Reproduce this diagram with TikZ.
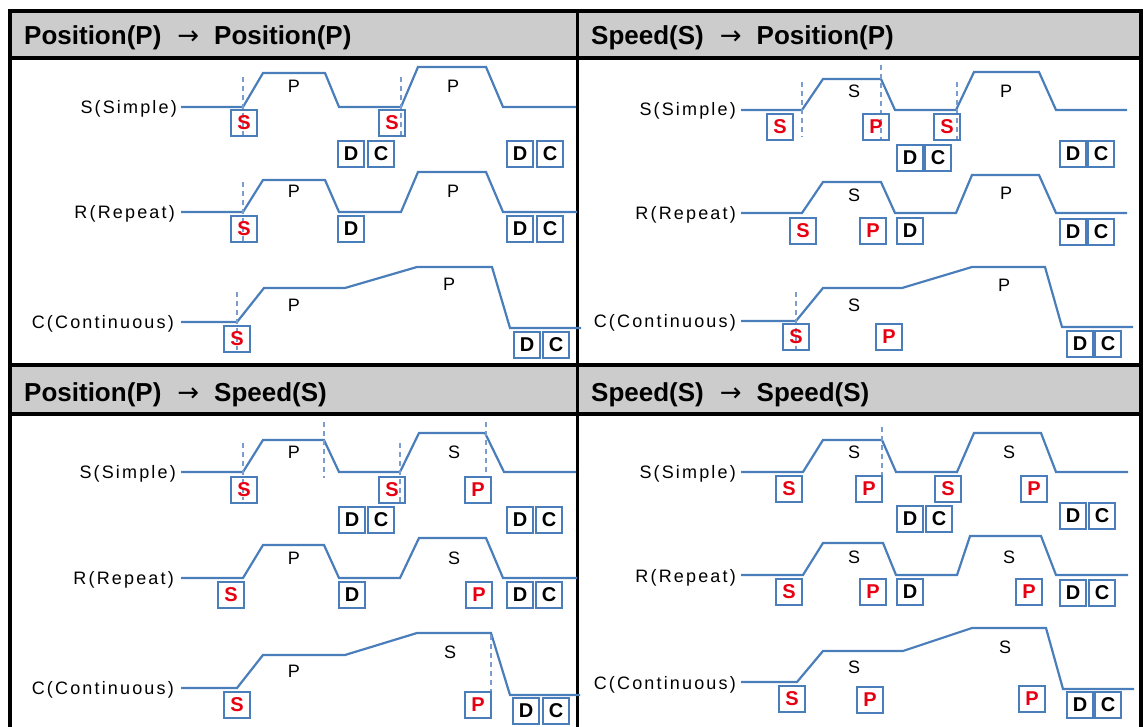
\documentclass[tikz,border=0pt]{standalone}
\usepackage{fontspec}
\setmainfont{Liberation Sans}
\newfontfamily\lblfont[LetterSpace=12]{Liberation Sans}
\newfontfamily\arrowfont{DejaVu Sans}
\definecolor{wblue}{HTML}{4A7EBB}
\definecolor{gblue}{HTML}{7A9CCF}
\definecolor{sred}{HTML}{E60012}
\definecolor{hdrgray}{HTML}{CCCCCC}
\newcommand\rbx[4]{\node[rbox] (#1) at (#2,#3) {#4};}
\newcommand\kbx[4]{\node[kbox] (#1) at (#2,#3) {#4};}
\newcommand\harr{\hspace{16pt}{\arrowfont\mdseries →}\hspace{15pt}}
\begin{document}
\begin{tikzpicture}[x=1pt,y=-1pt,
  wave/.style={draw=wblue, line width=2.2pt},
  guide/.style={draw=gblue, line width=1.3pt, dash pattern=on 5pt off 4pt},
  frame/.style={draw=black, line width=3.5pt},
  rbox/.style={draw=wblue, line width=1.8pt, minimum width=26pt, minimum height=26pt, inner sep=0pt, font=\fontsize{20}{20}\selectfont\bfseries, text=sred},
  kbox/.style={rbox, text=black},
  lbl/.style={anchor=base east, inner sep=0pt, font=\lblfont\fontsize{18}{20}\selectfont},
  seg/.style={inner sep=0pt, font=\fontsize{18}{20}\selectfont},
  hdr/.style={anchor=base west, inner sep=0pt, font=\fontsize{26}{28}\selectfont\bfseries}]
\useasboundingbox (0,0) rectangle (1144,727);
% headers background
\fill[hdrgray] (10,11) rectangle (1141,58);
\fill[hdrgray] (10,365) rectangle (1141,414);
% frame
\draw[frame] (10,11) rectangle (1141,745);
\draw[frame] (10,58) -- (1141,58);
\draw[frame] (10,365) -- (1141,365);
\draw[frame] (10,414) -- (1141,414);
\draw[draw=black, line width=3pt] (577,11) -- (577,745);
% header texts
\node[hdr] (h1) at (24,45) {Position(P)\harr Position(P)};
\node[hdr] (h2) at (591,45) {Speed(S)\harr Position(P)};
\node[hdr] (h3) at (24,402) {Position(P)\harr Speed(S)};
\node[hdr] (h4) at (591,402) {Speed(S)\harr Speed(S)};

% ================= Q1 =================
\node[lbl] (q1l1) at (177,113.5) {S(Simple)};
\node[lbl] (q1l2) at (175,218.5) {R(Repeat)};
\node[lbl] (q1l3) at (174,328.5) {C(Continuous)};
\draw[wave] (181,107) -- (243,107) -- (263,73) -- (325,73) -- (339,107) -- (401,107) -- (418,67) -- (486,67) -- (503,107) -- (576,107);
\draw[guide] (243,77) -- (243,136);
\draw[guide] (401,77) -- (401,136);
\node[seg] (q1p1) at (294,86) {P};
\node[seg] (q1p2) at (453,86) {P};
\rbx{q1a1}{244}{123}{S}
\rbx{q1a2}{392}{123}{S}
\kbx{q1a3}{351}{154}{D}
\kbx{q1a4}{381}{154}{C}
\kbx{q1a5}{520}{154}{D}
\kbx{q1a6}{550}{154}{C}

\draw[wave] (181,212) -- (243,212) -- (263,180) -- (325,180) -- (339,212) -- (401,212) -- (418,172) -- (486,172) -- (503,212) -- (577,212);
\draw[guide] (243,182) -- (243,242);
\node[seg] (q1p3) at (294,191) {P};
\node[seg] (q1p4) at (453,191) {P};
\rbx{q1b1}{244}{229}{S}
\kbx{q1b2}{351}{229}{D}
\kbx{q1b3}{520}{229}{D}
\kbx{q1b4}{550}{229}{C}

\draw[wave] (181,322) -- (237,322) -- (264,288) -- (345,288) -- (417,267) -- (492,267) -- (510,328) -- (581,328);
\draw[guide] (237,292) -- (237,350);
\node[seg] (q1p5) at (294,305) {P};
\node[seg] (q1p6) at (449,284) {P};
\rbx{q1c1}{237}{339}{S}
\kbx{q1c2}{527}{345}{D}
\kbx{q1c3}{556}{345}{C}

% ================= Q2 =================
\node[lbl] (q2l1) at (736,116) {S(Simple)};
\node[lbl] (q2l2) at (736,219.5) {R(Repeat)};
\node[lbl] (q2l3) at (736,327.5) {C(Continuous)};
\draw[wave] (741,110) -- (802,110) -- (823,79) -- (881,79) -- (895,110) -- (956,110) -- (974,72) -- (1039,72) -- (1056,110) -- (1127,110);
\draw[guide] (802,82) -- (802,137);
\draw[guide] (881,65) -- (881,140);
\draw[guide] (957,82) -- (957,140);
\node[seg] (q2p1) at (854,91) {S};
\node[seg] (q2p2) at (1006,91) {P};
\rbx{q2a1}{780}{127}{S}
\rbx{q2a2}{876}{127}{P}
\rbx{q2a3}{947}{127}{S}
\kbx{q2a4}{910}{158}{D}
\kbx{q2a5}{938}{158}{C}
\kbx{q2a6}{1073}{154}{D}
\kbx{q2a7}{1101}{154}{C}

\draw[wave] (741,213) -- (802,213) -- (823,182) -- (881,182) -- (895,213) -- (956,213) -- (972,175) -- (1039,175) -- (1056,213) -- (1127,213);
\node[seg] (q2p3) at (854,195) {S};
\node[seg] (q2p4) at (1006,193) {P};
\rbx{q2b1}{803}{231}{S}
\rbx{q2b2}{873}{231}{P}
\kbx{q2b3}{910}{231}{D}
\kbx{q2b4}{1073}{232}{D}
\kbx{q2b5}{1101}{232}{C}

\draw[wave] (741,321) -- (796,321) -- (823,288) -- (902,288) -- (972,267) -- (1045,267) -- (1062,327) -- (1133,327);
\draw[guide] (796,292) -- (796,349);
\node[seg] (q2p5) at (854,305) {S};
\node[seg] (q2p6) at (1004,285) {P};
\rbx{q2c1}{796}{337}{S}
\rbx{q2c2}{889}{337}{P}
\kbx{q2c3}{1080}{344}{D}
\kbx{q2c4}{1108}{344}{C}

% ================= Q3 =================
\node[lbl] (q3l1) at (176,478.5) {S(Simple)};
\node[lbl] (q3l2) at (174,584.5) {R(Repeat)};
\node[lbl] (q3l3) at (174,694.5) {C(Continuous)};
\draw[wave] (181,472) -- (243,472) -- (263,440) -- (324,440) -- (339,472) -- (400,472) -- (419,433) -- (485,433) -- (504,472) -- (576,472);
\draw[guide] (243,443) -- (243,500);
\draw[guide] (324,422) -- (324,478);
\draw[guide] (400,443) -- (400,502);
\draw[guide] (486,422) -- (486,477);
\node[seg] (q3p1) at (294,452) {P};
\node[seg] (q3p2) at (454,452) {S};
\rbx{q3a1}{244}{490}{S}
\rbx{q3a2}{392}{490}{S}
\rbx{q3a3}{478}{490}{P}
\kbx{q3a4}{352}{520}{D}
\kbx{q3a5}{381}{520}{C}
\kbx{q3a6}{520}{520}{D}
\kbx{q3a7}{549}{520}{C}

\draw[wave] (181,578) -- (243,578) -- (263,545) -- (324,545) -- (339,578) -- (400,578) -- (419,538) -- (486,538) -- (503,578) -- (577,578);
\node[seg] (q3p3) at (294,558) {P};
\node[seg] (q3p4) at (454,558) {S};
\rbx{q3b1}{231}{595}{S}
\kbx{q3b2}{352}{595}{D}
\rbx{q3b3}{479}{595}{P}
\kbx{q3b4}{520}{595}{D}
\kbx{q3b5}{549}{595}{C}

\draw[wave] (181,688) -- (237,688) -- (263,655) -- (345,655) -- (417,633) -- (491,633) -- (510,695) -- (580,695);
\draw[guide] (491,635) -- (491,692);
\node[seg] (q3p5) at (294,671) {P};
\node[seg] (q3p6) at (450,652) {S};
\rbx{q3c1}{237}{705}{S}
\rbx{q3c2}{478}{705}{P}
\kbx{q3c3}{526}{711}{D}
\kbx{q3c4}{556}{711}{C}

% ================= Q4 =================
\node[lbl] (q4l1) at (736,478) {S(Simple)};
\node[lbl] (q4l2) at (736,582) {R(Repeat)};
\node[lbl] (q4l3) at (736,689) {C(Continuous)};
\draw[wave] (741,472) -- (803,472) -- (823,440) -- (882,440) -- (896,472) -- (957,472) -- (974,433) -- (1041,433) -- (1056,472) -- (1128,472);
\draw[guide] (882,427) -- (882,476);
\node[seg] (q4p1) at (854,452) {S};
\node[seg] (q4p2) at (1009,452) {S};
\rbx{q4a1}{789}{489}{S}
\rbx{q4a2}{869}{489}{P}
\rbx{q4a3}{948}{489}{S}
\rbx{q4a4}{1034}{489}{P}
\kbx{q4a5}{910}{519}{D}
\kbx{q4a6}{939}{519}{C}
\kbx{q4a7}{1073}{516}{D}
\kbx{q4a8}{1102}{516}{C}

\draw[wave] (741,575) -- (803,575) -- (823,543) -- (883,543) -- (896,575) -- (957,575) -- (970,536) -- (1041,536) -- (1056,575) -- (1128,575);
\node[seg] (q4p3) at (854,557) {S};
\node[seg] (q4p4) at (1009,557) {S};
\rbx{q4b1}{789}{592}{S}
\rbx{q4b2}{873}{592}{P}
\kbx{q4b3}{910}{592}{D}
\rbx{q4b4}{1029}{592}{P}
\kbx{q4b5}{1073}{593}{D}
\kbx{q4b6}{1102}{593}{C}

\draw[wave] (741,682) -- (797,682) -- (823,651) -- (903,651) -- (972,628) -- (1046,628) -- (1063,689) -- (1134,689);
\node[seg] (q4p5) at (854,667) {S};
\node[seg] (q4p6) at (1005,647) {S};
\rbx{q4c1}{792}{699}{S}
\rbx{q4c2}{870}{700}{P}
\rbx{q4c3}{1032}{699}{P}
\kbx{q4c4}{1080}{705}{D}
\kbx{q4c5}{1108}{705}{C}
\end{tikzpicture}
\end{document}
